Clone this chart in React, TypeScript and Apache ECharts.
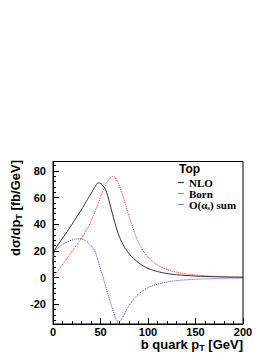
import React, { useEffect, useRef } from "react";
import * as echarts from "echarts";

const xValues = [0, 1, 2.5, 5, 7.5, 10, 12.5, 15, 17.5, 20, 22.5, 25, 27.5, 30, 32.5, 35, 37.5, 40, 42.5, 45, 47.5, 50, 52.5, 55, 57.5, 60, 62.5, 65, 67.5, 70, 72.5, 75, 77.5, 80, 82.5, 85, 87.5, 90, 95, 100, 105, 110, 115, 120, 125, 130, 140, 150, 160, 170, 180, 190, 200];

const nloValues = [10, 19, 21.5, 24.5, 27, 29.5, 32, 34.5, 37.3, 40, 42.8, 45.5, 48.3, 51, 54, 57, 60, 63, 66, 69, 71, 70.5, 69, 66.5, 61.5, 55, 48, 41.5, 35.5, 30.5, 26.5, 23, 20.5, 18, 16, 14.2, 12.6, 11.2, 8.8, 7, 5.6, 4.6, 3.8, 3.1, 2.6, 2.2, 1.6, 1.2, 0.9, 0.7, 0.5, 0.4, 0.3];

const bornValues = [0, 1, 2.4, 4.9, 7.3, 9.8, 12.2, 14.7, 17.1, 19.6, 22, 24.5, 27, 29.5, 32.3, 35.3, 38.6, 42.5, 46.5, 51, 55.5, 60.5, 65, 69, 72.3, 74.6, 75.8, 75.2, 72.5, 68.5, 63.5, 58, 52, 46, 40.5, 35.5, 30.5, 26.5, 20, 15.3, 12, 9.5, 7.6, 6.1, 5, 4.1, 2.8, 2, 1.4, 1, 0.75, 0.55, 0.4];

const alphaSValues = [10, 18, 20.5, 22, 23.5, 24.8, 25.9, 26.8, 27.6, 28.2, 28.7, 29, 29.1, 29, 28.4, 27.3, 25.8, 24, 21.8, 18.5, 12.5, 6.5, 1, -5.5, -11.5, -17.5, -23, -28.5, -32.5, -33, -30.5, -27.5, -24, -21, -18.5, -16, -14, -12.3, -9.5, -7.5, -6, -4.9, -4, -3.3, -2.7, -2.2, -1.6, -1.2, -0.9, -0.7, -0.5, -0.4, -0.3];

const seriesNames = ["NLO", "Born", "O(αs) sum"];
const yMajorTicks = [-20, 0, 20, 40, 60, 80];
const yMinorTicks = [-32, -28, -24, -16, -12, -8, -4, 4, 8, 12, 16, 24, 28, 32, 36, 44, 48, 52, 56, 64, 68, 72, 76, 84];
const xTickLabels = [0, 50, 100, 150, 200];

const pairs = (ys: number[]) => xValues.map((x, i) => [x, ys[i]]);

const sans = "'Liberation Sans', Arial, sans-serif";
const serif = "'Liberation Serif', 'Times New Roman', serif";

export default function App() {
  const ref = useRef<HTMLDivElement>(null);
  useEffect(() => {
    if (!ref.current) return;
    const chart = echarts.init(ref.current, undefined, { renderer: "svg" });
    const axisLabelStyle = { color: "#000", fontFamily: sans, fontWeight: "bold" as const, fontSize: 11 };
    chart.setOption({
      animation: false,
      backgroundColor: "#fff",
      grid: { left: 53, right: 31, top: 161.5, bottom: 31, show: true, borderColor: "#000", borderWidth: 1, backgroundColor: "transparent" },
      title: {
        text: "Top",
        left: 179,
        top: 163,
        padding: 0,
        textStyle: { fontFamily: sans, fontWeight: "bold", fontSize: 12, color: "#000" },
      },
      legend: {
        orient: "vertical",
        left: 178,
        top: 177,
        padding: 0,
        icon: "rect",
        itemWidth: 6,
        itemHeight: 1.2,
        itemGap: 0,
        data: seriesNames,
        formatter: (name: string) => (name === "O(αs) sum" ? "O(α{s|s}) sum" : name),
        textStyle: {
          fontFamily: serif,
          fontWeight: "bold",
          fontSize: 11,
          lineHeight: 11,
          color: "#000",
          rich: { s: { fontFamily: serif, fontWeight: "bold", fontSize: 7, padding: [6, 0, 0, 0], color: "#000" } },
        },
      },
      xAxis: {
        type: "value",
        min: 0,
        max: 200,
        interval: 50,
        axisLine: { show: true, onZero: false, lineStyle: { color: "#000", width: 1 } },
        axisTick: { show: true, inside: true, length: 6, lineStyle: { color: "#000" } },
        minorTick: { show: true, splitNumber: 5, length: 3, lineStyle: { color: "#000" } },
        axisLabel: { ...axisLabelStyle, margin: 2, customValues: xTickLabels },
        splitLine: { show: false },
      },
      yAxis: [
        {
          type: "value",
          min: -34.7,
          max: 87,
          axisLine: { show: true, onZero: false, lineStyle: { color: "#000", width: 1 } },
          axisTick: { show: true, inside: true, length: 6, customValues: yMajorTicks, lineStyle: { color: "#000" } },
          axisLabel: { ...axisLabelStyle, margin: 7, customValues: yMajorTicks },
          splitLine: { show: false },
        },
        {
          type: "value",
          min: -34.7,
          max: 87,
          position: "left",
          axisLine: { show: false, onZero: false },
          axisTick: { show: true, inside: true, length: 3, customValues: yMinorTicks, lineStyle: { color: "#000" } },
          axisLabel: { show: false },
          splitLine: { show: false },
        },
      ],
      graphic: [
        {
          type: "text",
          x: 243,
          y: 344,
          style: {
            text: "b quark p{s|T} [GeV]",
            align: "right",
            verticalAlign: "middle",
            fontFamily: sans,
            fontWeight: "bold",
            fontSize: 13,
            fill: "#000",
            rich: { s: { fontFamily: sans, fontWeight: "bold", fontSize: 9, padding: [7, 0, 0, 0], fill: "#000" } },
          },
        },
        {
          type: "text",
          x: 15,
          y: 208,
          rotation: Math.PI / 2,
          style: {
            text: "dσ/dp{s|T} [fb/GeV]",
            align: "center",
            verticalAlign: "middle",
            fontFamily: sans,
            fontWeight: "bold",
            fontSize: 13,
            fill: "#000",
            rich: { s: { fontFamily: sans, fontWeight: "bold", fontSize: 9, padding: [7, 0, 0, 0], fill: "#000" } },
          },
        },
      ],
      series: [
        {
          name: seriesNames[0],
          type: "line",
          data: pairs(nloValues),
          symbol: "none",
          smooth: 0.3,
          lineStyle: { color: "#333", width: 1 },
          itemStyle: { color: "#333" },
          z: 3,
        },
        {
          name: seriesNames[1],
          type: "line",
          data: pairs(bornValues),
          symbol: "none",
          smooth: 0.3,
          lineStyle: { color: "#ff2020", width: 1, type: [1, 1] },
          itemStyle: { color: "#ff7070" },
          z: 2,
        },
        {
          name: seriesNames[2],
          type: "line",
          data: pairs(alphaSValues),
          symbol: "none",
          smooth: 0.3,
          lineStyle: { color: "#4040ff", width: 1, type: [1, 1] },
          itemStyle: { color: "#8080ff" },
          z: 2,
        },
      ],
    });
    return () => chart.dispose();
  }, []);
  return <div ref={ref} style={{ position: "fixed", left: 0, top: 0, width: 274, height: 355 }} />;
}
